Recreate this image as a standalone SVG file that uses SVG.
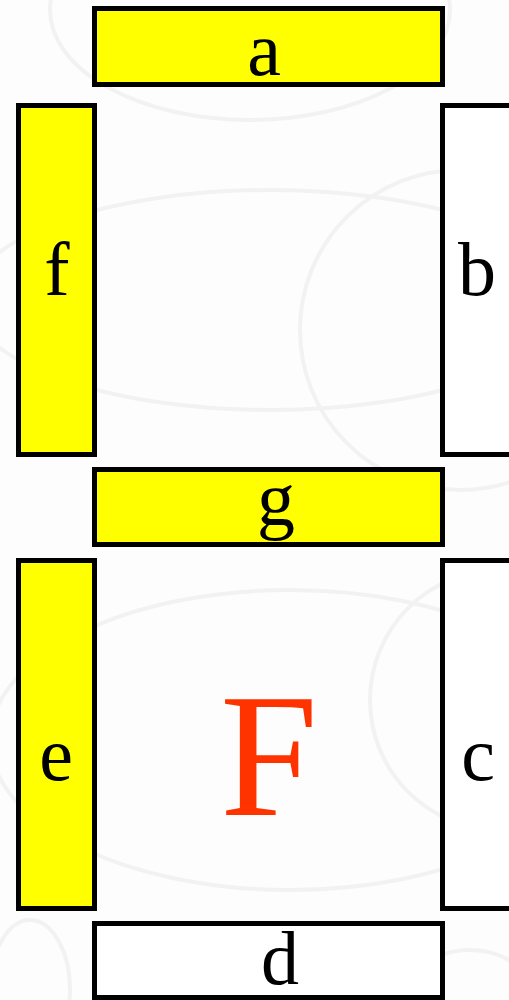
<svg xmlns="http://www.w3.org/2000/svg" width="509" height="1000" viewBox="0 0 509 1000">
<style>
.seg{stroke:#000;stroke-width:5}
.on{fill:#ffff00}
.off{fill:#ffffff}
.lbl{font-family:"Liberation Serif","Times New Roman",serif;font-size:76px;fill:#000;text-anchor:middle}
.big{font-family:"Liberation Serif","Times New Roman",serif;font-size:176px;fill:#ff3300;text-anchor:middle}
.wm{fill:none;stroke:#f2f2f2;stroke-width:4}
</style>
<rect x="0" y="0" width="509" height="1000" fill="#fdfdfd"/>
<g id="watermark">
<ellipse class="wm" cx="250" cy="10" rx="200" ry="110"/>
<circle class="wm" cx="460" cy="330" r="160"/>
<ellipse class="wm" cx="270" cy="300" rx="300" ry="110"/>
<ellipse class="wm" cx="290" cy="740" rx="300" ry="150"/>
<circle class="wm" cx="500" cy="700" r="130"/>
<ellipse class="wm" cx="30" cy="990" rx="40" ry="70"/>
<ellipse class="wm" cx="470" cy="1010" rx="70" ry="60"/>
</g>
<g id="seg-a"><rect class="seg on" x="94.5" y="8.5" width="348" height="76"/><text class="lbl" x="264" y="75">a</text></g>
<g id="seg-f"><rect class="seg on" x="18.5" y="105.5" width="76" height="349"/><text class="lbl" x="57" y="295">f</text></g>
<g id="seg-b"><rect class="seg off" x="442.5" y="105.5" width="76" height="349"/><text class="lbl" x="477" y="295">b</text></g>
<g id="seg-g"><rect class="seg on" x="94.5" y="469.5" width="348" height="75"/><text class="lbl" x="276" y="525">g</text></g>
<g id="seg-e"><rect class="seg on" x="18.5" y="560.5" width="76" height="348"/><text class="lbl" x="56" y="780">e</text></g>
<g id="seg-c"><rect class="seg off" x="442.5" y="560.5" width="76" height="348"/><text class="lbl" x="478" y="780">c</text></g>
<g id="seg-d"><rect class="seg off" x="94.5" y="923.5" width="348" height="74"/><text class="lbl" x="280" y="984">d</text></g>
<g id="digit"><text class="big" x="269" y="815">F</text></g>
<g id="connectors"/>
</svg>
